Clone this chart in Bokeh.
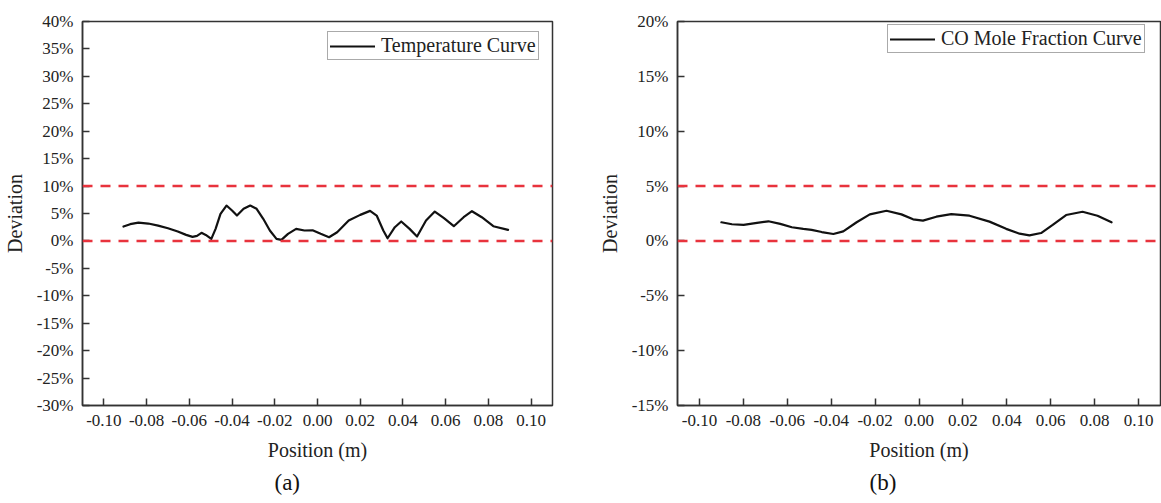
from bokeh.plotting import figure
from bokeh.layouts import row
from bokeh.models import (FixedTicker, PrintfTickFormatter, Span, Legend,
                          LegendItem, Title, Range1d)
from bokeh.embed import file_html
from bokeh.resources import INLINE

# ---- data ----
x_ticks = [-0.10, -0.08, -0.06, -0.04, -0.02, 0.0, 0.02, 0.04, 0.06, 0.08, 0.10]

temp_x = [-0.0908, -0.0877, -0.0838, -0.0792, -0.0746, -0.0700, -0.0654, -0.0615,
          -0.0585, -0.0564, -0.0543, -0.0523, -0.0497, -0.0477, -0.0454, -0.0426,
          -0.0400, -0.0377, -0.0346, -0.0315, -0.0285, -0.0254, -0.0223, -0.0192,
          -0.0169, -0.0138, -0.0100, -0.0061, -0.0023, 0.0015, 0.0054, 0.0092,
          0.0146, 0.0200, 0.0246, 0.0277, 0.0308, 0.0328, 0.0362, 0.0392, 0.0431,
          0.0466, 0.0508, 0.0549, 0.0592, 0.0638, 0.0684, 0.0723, 0.0769, 0.0823,
          0.0892]
temp_y = [2.62, 3.05, 3.35, 3.17, 2.80, 2.32, 1.71, 1.10,
          0.74, 0.92, 1.47, 1.10, 0.37, 2.20, 4.93, 6.45,
          5.54, 4.63, 5.85, 6.45, 5.85, 4.03, 1.90, 0.37,
          0.19, 1.29, 2.20, 1.90, 1.93, 1.29, 0.68, 1.59,
          3.72, 4.75, 5.48, 4.63, 1.90, 0.49, 2.50, 3.54, 2.20,
          0.80, 3.72, 5.36, 4.14, 2.68, 4.32, 5.42, 4.32, 2.68,
          2.02]
temp_limits = [10, 0]
temp_yticks = list(range(-30, 45, 5))

co_x = [-0.0900, -0.0852, -0.0799, -0.0738, -0.0686, -0.0632, -0.0579, -0.0527,
        -0.0489, -0.0443, -0.0390, -0.0345, -0.0284, -0.0224, -0.0148, -0.0080,
        -0.0027, 0.0018, 0.0079, 0.0147, 0.0230, 0.0321, 0.0397, 0.0458, 0.0503,
        0.0556, 0.0609, 0.0670, 0.0745, 0.0813, 0.0877]
co_y = [1.70, 1.52, 1.46, 1.64, 1.79, 1.55, 1.25, 1.10,
        1.01, 0.81, 0.63, 0.87, 1.70, 2.42, 2.75, 2.42,
        1.97, 1.85, 2.21, 2.45, 2.30, 1.76, 1.10, 0.66, 0.51,
        0.72, 1.46, 2.36, 2.66, 2.30, 1.70]
co_limits = [5, 0]
co_yticks = list(range(-15, 25, 5))

FONT = "Liberation Serif"


def make_panel(xs, ys, limits, yticks, label, tag, width, border_left,
               border_right, border_top, legend_loc):
    p = figure(width=width, height=503, output_backend="svg", toolbar_location=None,
               x_range=Range1d(-0.11, 0.11),
               y_range=Range1d(yticks[0], yticks[-1]),
               min_border_left=border_left, min_border_right=border_right,
               min_border_top=border_top, min_border_bottom=98)
    p.xgrid.visible = False
    p.ygrid.visible = False
    p.outline_line_color = "#333333"
    p.outline_line_width = 1.5
    p.background_fill_color = "white"
    p.border_fill_color = "white"

    for ax in (p.xaxis[0], p.yaxis[0]):
        ax.axis_line_color = "#333333"
        ax.axis_line_width = 1.5
        ax.major_tick_in = 7
        ax.major_tick_out = 0
        ax.major_tick_line_width = 1.5
        ax.major_tick_line_color = "#333333"
        ax.minor_tick_line_color = None
        ax.major_label_text_font = FONT
        ax.major_label_text_font_size = "17px"
        ax.major_label_text_color = "#222222"
        ax.axis_label_text_font = FONT
        ax.axis_label_text_font_size = "20px"
        ax.axis_label_text_font_style = "normal"
        ax.axis_label_text_color = "#222222"

    p.xaxis[0].ticker = FixedTicker(ticks=x_ticks)
    p.xaxis[0].formatter = PrintfTickFormatter(format="%.2f")
    p.xaxis[0].axis_label = "Position (m)"
    p.xaxis[0].major_label_standoff = 9
    p.xaxis[0].axis_label_standoff = 10

    p.yaxis[0].ticker = FixedTicker(ticks=yticks)
    p.yaxis[0].formatter = PrintfTickFormatter(format="%d%%")
    p.yaxis[0].axis_label = "Deviation"
    p.yaxis[0].major_label_standoff = 9
    p.yaxis[0].axis_label_standoff = 8

    for lim in limits:
        p.add_layout(Span(location=lim, dimension="width", line_color="#e8333d",
                          line_width=2.5, line_dash="10 8"))

    r = p.line(xs, ys, line_color="#111111", line_width=2.2,
               line_join="round", line_cap="round")

    legend = Legend(items=[LegendItem(label=label, renderers=[r])],
                    location=legend_loc, margin=0, padding=2, spacing=0,
                    glyph_width=45, label_standoff=6,
                    label_text_font=FONT, label_text_font_size="20px",
                    label_text_color="#222222",
                    border_line_color="#555555", border_line_width=1,
                    background_fill_alpha=1.0)
    p.add_layout(legend, "center")

    p.add_layout(Title(text=tag, align="left", offset=192, standoff=8, text_font=FONT,
                       text_font_size="23px", text_font_style="normal",
                       text_color="#111111"), "below")
    return p


p1 = make_panel(temp_x, temp_y, temp_limits, temp_yticks, "Temperature Curve", "(a)",
                580, 77, 28, 21, (245, 345))
p2 = make_panel(co_x, co_y, co_limits, co_yticks, "CO Mole Fraction Curve", "(b)",
                581, 97, 1, 15, (210, 352))

layout = row(p1, p2)
open("out.html", "w").write(file_html(layout, INLINE))
